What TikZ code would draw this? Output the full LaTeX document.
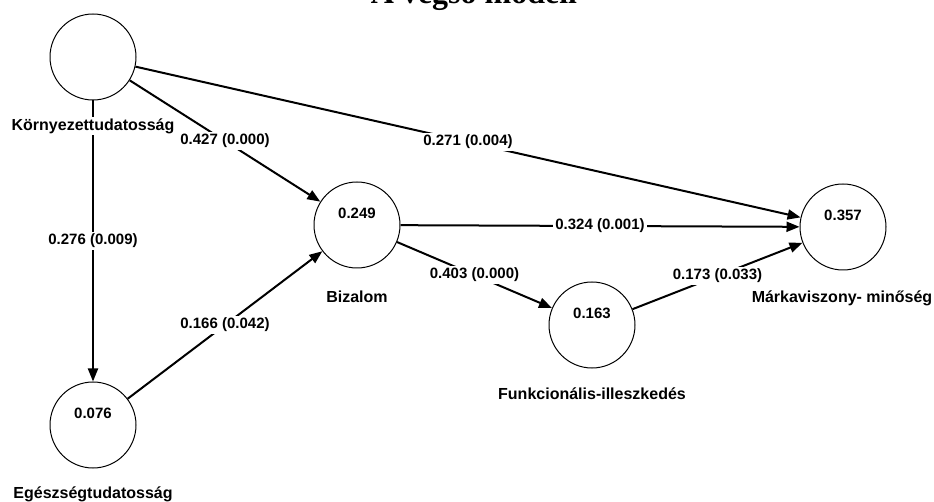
\documentclass[tikz,border=0pt]{standalone}
\usepackage{fontspec}
\setmainfont{Liberation Sans}
\newfontfamily\titlefont{Liberation Serif}
\usetikzlibrary{arrows.meta}

\begin{document}
\begin{tikzpicture}[x=1pt,y=-1pt,latent/.style={shape=circle,draw=black,line width=1pt,minimum size=86pt,inner sep=0pt},rsq/.style={font=\fontsize{15}{18}\selectfont\bfseries},lv/.style={font=\fontsize{16}{19}\selectfont\bfseries,fill=white,inner sep=1pt},coef/.style={font=\fontsize{15}{18}\selectfont\bfseries,fill=white,inner sep=2pt},link/.style={line width=2pt,-{Triangle[length=13pt,width=10pt]}}]
\def\dv{12};
\def\dl{69};

\useasboundingbox (0,0) rectangle (934,502);

\node[font=\titlefont\fontsize{32}{36}\selectfont\bfseries,anchor=base] (T) at (474,4) {A végső modell};

\node[latent] (K) at (93,57) {};
\node[latent] (E) at (93,425) {};
\node[latent] (B) at (357,225) {};
\node[latent] (F) at (592,325) {};
\node[latent] (M) at (843,227) {};

\node[rsq] (Ev) at (93,425-\dv) {0.076};
\node[rsq] (Bv) at (357,225-\dv) {0.249};
\node[rsq] (Fv) at (592,325-\dv) {0.163};
\node[rsq] (Mv) at (843,227-\dv) {0.357};

\draw[link] (K) -- node[coef] {0.276 (0.009)} (E);
\draw[link] (K) -- node[coef] {0.427 (0.000)} (B);
\draw[link] (K) -- node[coef] {0.271 (0.004)} (M);
\draw[link] (E) -- node[coef] {0.166 (0.042)} (B);
\draw[link] (B) -- node[coef] {0.324 (0.001)} (M);
\draw[link] (B) -- node[coef] {0.403 (0.000)} (F);
\draw[link] (F) -- node[coef] {0.173 (0.033)} (M);

\node[lv] (Kn) at (93,57+\dl) {Környezettudatosság};
\node[lv] (En) at (93,425+\dl) {Egészségtudatosság};
\node[lv] (Bn) at (357,225+\dl+3) {Bizalom};
\node[lv] (Fn) at (592,325+\dl) {Funkcionális-illeszkedés};
\node[lv] (Mn) at (842,227+\dl+2) {Márkaviszony- minőség};
\end{tikzpicture}
\end{document}
